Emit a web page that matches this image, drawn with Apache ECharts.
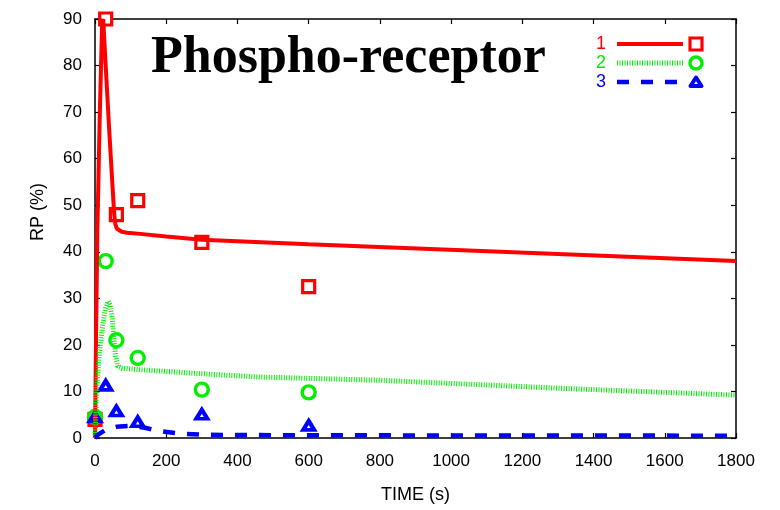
<!DOCTYPE html>
<html>
<head>
<meta charset="utf-8">
<script src="https://cdn.jsdelivr.net/npm/echarts@6/dist/echarts.min.js"></script>
<style>
  html, body { margin: 0; padding: 0; background: #fff; }
  #chart { width: 780px; height: 510px; }
</style>
</head>
<body>
<div id="chart"></div>
<script>
// model curves (time in s, RP in %)
const modelTime1 = [0, 3, 6.5, 13, 20, 23, 30, 40, 50, 54, 57, 61, 66, 75, 90, 120, 200, 300, 600, 1300, 1800];
const modelRP1 = [0, 22, 44, 68, 89, 90, 80, 66, 53, 48, 46, 45, 44.6, 44.3, 44.1, 43.9, 43.3, 42.6, 41.6, 39.5, 38];

const modelTime2 = [0, 3, 7, 12, 18, 24, 30, 37, 43, 48, 53, 58, 64, 75, 120, 200, 300, 460, 800, 1300, 1800];
const modelRP2 = [0, 7, 13, 18, 22, 25.5, 28, 29.3, 28.5, 26, 21.5, 17.5, 15.4, 15, 14.7, 14.3, 13.8, 13.1, 12.4, 10.7, 9.2];

const modelTime3 = [0, 10, 30, 60, 100, 140, 180, 230, 300, 500, 1000, 1800];
const modelRP3 = [0, 0.8, 1.8, 2.4, 2.6, 2.2, 1.5, 1.0, 0.7, 0.6, 0.55, 0.5];

// measured points
const expTime = [0, 30, 60, 120, 300, 600];
const expRP1 = [4, 90, 48, 51, 42, 32.5];
const expRP2 = [4.5, 38, 21, 17.2, 10.4, 9.8];
const expRP3 = [4.5, 11.3, 5.8, 3.5, 5.1, 2.7];

const xTicks = [0, 1800, 200];
const yTicks = [0, 90, 10];
const legendNames = ['1', '2', '3'];

const RED = '#ff0000', GREEN = '#00ee00', BLUE = '#0000ff';
const FONT = '"Liberation Sans", Arial, sans-serif';

const zip = (xs, ys) => xs.map((x, i) => [x, ys[i]]);

const chart = echarts.init(document.getElementById('chart'));

const axisLineStyle = { color: '#000', width: 1.5 };

const baseX = {
  type: 'value', min: xTicks[0], max: xTicks[1], interval: xTicks[2],
  axisLine: { show: true, onZero: false, lineStyle: axisLineStyle },
  axisTick: { show: true, inside: true, length: 5, lineStyle: { color: '#000', width: 1.2 } },
  splitLine: { show: false }
};
const baseY = {
  type: 'value', min: yTicks[0], max: yTicks[1], interval: yTicks[2],
  axisLine: { show: true, onZero: false, lineStyle: axisLineStyle },
  axisTick: { show: true, inside: true, length: 5, lineStyle: { color: '#000', width: 1.2 } },
  splitLine: { show: false }
};

const lineSeries = (t, v, color, type, width) => ({
  type: 'line', data: zip(t, v), showSymbol: false, symbol: 'none',
  lineStyle: { color: color, width: width, type: type }, clip: true, silent: true
});
const pointSeries = (v, symbol, size, color, bw) => ({
  type: 'scatter', data: zip(expTime, v), symbol: symbol, symbolSize: size, clip: false,
  itemStyle: { color: '#fff', borderColor: color, borderWidth: bw, opacity: 1 }, silent: true
});

// legend made of graphic pieces: label, line sample, marker
const legendRows = [
  { y: 44, color: RED, dash: 'solid', w: 4 },
  { y: 63, color: GREEN, dash: [1, 1.5], w: 5 },
  { y: 82, color: BLUE, dash: [12, 12], w: 4.5 }
];
const legendGraphic = [];
legendRows.forEach((r, i) => {
  legendGraphic.push({
    type: 'text', x: 606, y: r.y,
    style: { text: legendNames[i], fill: r.color, font: '18px ' + FONT, textAlign: 'right', textVerticalAlign: 'middle' }
  });
  legendGraphic.push({
    type: 'line', shape: { x1: 617, y1: r.y, x2: 683, y2: r.y },
    style: { stroke: r.color, lineWidth: r.w, lineDash: r.dash === 'solid' ? null : r.dash }
  });
});
legendGraphic.push({ type: 'rect', shape: { x: 690, y: 38, width: 12, height: 12 },
  style: { fill: '#fff', stroke: RED, lineWidth: 3.2 } });
legendGraphic.push({ type: 'circle', shape: { cx: 696, cy: 63, r: 6 },
  style: { fill: '#fff', stroke: GREEN, lineWidth: 3.4 } });
legendGraphic.push({ type: 'polygon', shape: { points: [[696, 77.5], [701.5, 86], [690.5, 86]] },
  style: { fill: '#fff', stroke: BLUE, lineWidth: 4, lineJoin: 'round' } });

const option = {
  animation: false,
  backgroundColor: '#fff',
  grid: { left: 95, right: 44, top: 19, bottom: 72 },
  xAxis: [
    Object.assign({}, baseX, {
      position: 'bottom',
      axisLabel: { color: '#000', fontSize: 17, fontFamily: FONT, margin: 15, formatter: v => String(v) },
      name: 'TIME (s)', nameLocation: 'middle', nameGap: 48,
      nameTextStyle: { color: '#000', fontSize: 18, fontFamily: FONT }
    }),
    Object.assign({}, baseX, { position: 'top', axisLabel: { show: false } })
  ],
  yAxis: [
    Object.assign({}, baseY, {
      position: 'left',
      axisLabel: { color: '#000', fontSize: 17, fontFamily: FONT, margin: 13 }
    }),
    Object.assign({}, baseY, { position: 'right', axisLabel: { show: false } })
  ],
  graphic: [
    {
      type: 'text', x: 151, y: 59,
      style: { text: 'Phospho-receptor', fill: '#000', font: 'bold 52px "Liberation Serif", "Times New Roman", serif', textVerticalAlign: 'middle' }
    },
    {
      type: 'text', x: 38, y: 212, rotation: Math.PI / 2,
      style: { text: 'RP (%)', fill: '#000', font: '18px ' + FONT, textAlign: 'center', textVerticalAlign: 'middle' }
    }
  ].concat(legendGraphic),
  series: [
    lineSeries(modelTime1, modelRP1, RED, 'solid', 4),
    pointSeries(expRP1, 'rect', 12, RED, 3.2),
    lineSeries(modelTime2, modelRP2, GREEN, [1, 1.5], 5),
    pointSeries(expRP2, 'circle', 13, GREEN, 3.4),
    lineSeries(modelTime3, modelRP3, BLUE, [12, 12], 4.5),
    pointSeries(expRP3, 'triangle', [11, 9], BLUE, 4)
  ]
};

chart.setOption(option);
</script>
</body>
</html>
